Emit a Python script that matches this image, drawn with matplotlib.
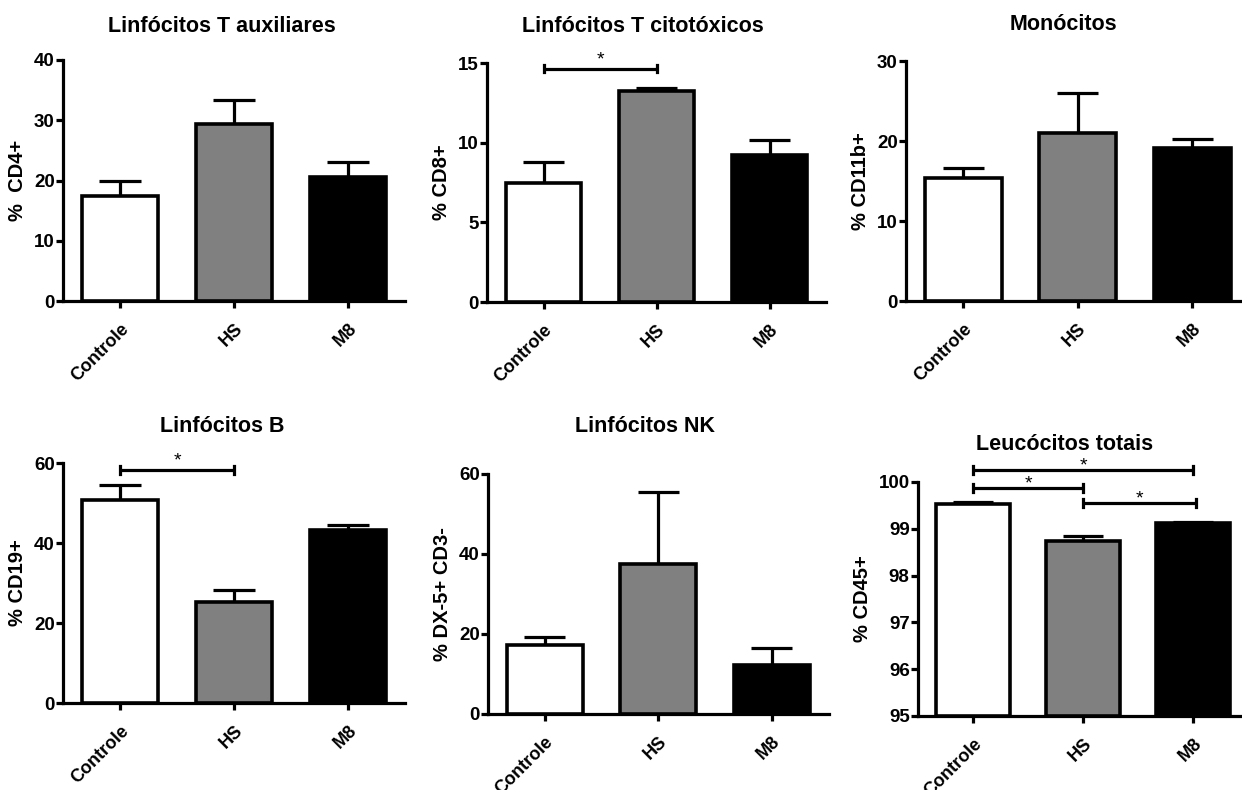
import matplotlib
matplotlib.use('Agg')
import matplotlib.pyplot as plt

plt.rcParams['font.family'] = ['Liberation Sans', 'DejaVu Sans']
plt.rcParams['font.weight'] = 'bold'

W, H = 1242, 790

groups = ['Controle', 'HS', 'M8']
colors = ['white', '#808080', 'black']

# means and upper ends of the error bars
cd4_mean = [17.5, 29.3, 20.5]
cd4_top = [20.0, 33.4, 23.1]
cd8_mean = [7.5, 13.25, 9.25]
cd8_top = [8.8, 13.4, 10.15]
cd11b_mean = [15.4, 21.0, 19.1]
cd11b_top = [16.6, 26.0, 20.2]
cd19_mean = [50.7, 25.2, 43.3]
cd19_top = [54.5, 28.2, 44.5]
nk_mean = [17.2, 37.5, 12.2]
nk_top = [19.2, 55.5, 16.6]
cd45_mean = [99.52, 98.73, 99.12]
cd45_top = [99.58, 98.85, 99.15]

# significance brackets: (from group, to group, height)
cd8_sig = [(0, 1, 14.65)]
cd19_sig = [(0, 1, 58.3)]
cd45_sig = [(0, 2, 100.26), (0, 1, 99.87), (1, 2.03, 99.55)]

panels = [
    # title, ylabel, means, tops, ylim, yticks, sig, star offset (pt),
    # left px, top px, bottom px, spacing px, title x, title y
    ('Linfócitos T auxiliares', '%  CD4+', cd4_mean, cd4_top, (0, 40), [0, 10, 20, 30, 40], [], 0,
     63, 60, 301, 114, 222, 26),
    ('Linfócitos T citotóxicos', '% CD8+', cd8_mean, cd8_top, (0, 15), [0, 5, 10, 15], cd8_sig, 3,
     487, 63, 302, 113, 643, 27),
    ('Monócitos', '% CD11b+', cd11b_mean, cd11b_top, (0, 30), [0, 10, 20, 30], [], 0,
     906, 61, 301, 114.5, 1063, 25),
    ('Linfócitos B', '% CD19+', cd19_mean, cd19_top, (0, 60), [0, 20, 40, 60], cd19_sig, 3,
     63, 463, 703, 114, 222, 427),
    ('Linfócitos NK', '% DX-5+ CD3-', nk_mean, nk_top, (0, 60), [0, 20, 40, 60], [], 0,
     488, 474, 714, 113.5, 645, 427),
    ('Leucócitos totais', '% CD45+', cd45_mean, cd45_top, (95, 100), [95, 96, 97, 98, 99, 100], cd45_sig, -0.4,
     918, 482, 716, 110, 1065, 445),
]

fig = plt.figure(figsize=(W / 100, H / 100), dpi=100)

lw = 2.3
x = list(range(len(groups)))

for (title, ylabel, means, tops, ylim, yticks, sig, star_dy,
     left, top, bottom, spacing, tx, ty) in panels:
    width_px = 3 * spacing
    ax = fig.add_axes([left / W, 1 - bottom / H, width_px / W, (bottom - top) / H])
    base = ylim[0]
    heights = [m - base for m in means]
    ax.bar(x, heights, bottom=base, width=0.67, color=colors, edgecolor='black',
           linewidth=2.6, zorder=3)
    # upper error bars only
    ax.vlines(x, means, tops, color='black', linewidth=lw, zorder=2)
    ax.hlines(tops, [i - 0.18 for i in x], [i + 0.18 for i in x], color='black',
              linewidth=lw, zorder=2)
    ax.set_xlim(-0.5, 2.5)
    ax.set_ylim(*ylim)
    ax.set_yticks(yticks)
    ax.set_xticks(x)
    ax.set_xticklabels(groups, rotation=45, ha='right', rotation_mode='anchor')
    for s in ['top', 'right']:
        ax.spines[s].set_visible(False)
    for s in ['left', 'bottom']:
        ax.spines[s].set_linewidth(lw)
    ax.tick_params(axis='both', width=lw, length=5, labelsize=13.5, pad=1)
    ax.tick_params(axis='x', pad=9, labelsize=13)
    for lab in ax.get_xticklabels() + ax.get_yticklabels():
        lab.set_fontweight('bold')
    ax.set_ylabel(ylabel, fontsize=14.5, fontweight='bold', labelpad=5)

    span = ylim[1] - ylim[0]
    for a, b, h in sig:
        ax.plot([a, b], [h, h], color='black', linewidth=lw, clip_on=False,
                solid_capstyle='butt')
        for e in (a, b):
            ax.plot([e, e], [h - span * 0.016, h + span * 0.016], color='black',
                    linewidth=lw, clip_on=False)
        # the asterisk glyph sits high in its box, so anchor on the baseline
        ax.annotate('*', xy=((a + b) / 2, h), xytext=(0, star_dy), textcoords='offset points',
                    ha='center', va='baseline', fontsize=14, fontweight='normal',
                    annotation_clip=False)

    fig.text(tx / W, 1 - ty / H, title, ha='center', va='center', fontsize=15.5,
             fontweight='bold')

fig.savefig('out.png', dpi=100)
